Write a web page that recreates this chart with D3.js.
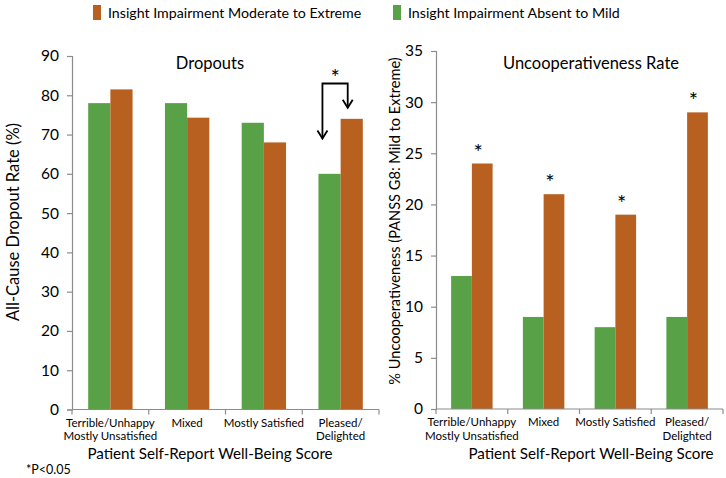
<!DOCTYPE html>
<html><head><meta charset="utf-8">
<script src="https://cdn.jsdelivr.net/npm/d3@7"></script>
<style>
body{margin:0;background:#fff;}
text{font-family:Lato,"Open Sans",sans-serif;fill:#000;}
</style></head>
<body><svg id="c" width="726" height="478"></svg>
<script>
const categories = [["Terrible/Unhappy","Mostly Unsatisfied"],["Mixed"],["Mostly Satisfied"],["Pleased/","Delighted"]];
const seriesNames = ["Insight Impairment Absent to Mild","Insight Impairment Moderate to Extreme"];
const dropoutAbsent = [78, 78, 73, 60];
const dropoutModerate = [81.5, 74.3, 68, 74];
const uncoopAbsent = [13, 9, 8, 9];
const uncoopModerate = [24, 21, 19, 29];
const uncoopSignificant = [true, true, true, true];
const dropoutTicks = [0,10,20,30,40,50,60,70,80,90];
const uncoopTicks = [0,5,10,15,20,25,30,35];
const colors = {"Insight Impairment Absent to Mild":"#58A146","Insight Impairment Moderate to Extreme":"#B8601F"};

const svg = d3.select("#c");

// Legend
const legendItems = [
  {name: seriesNames[1], x: 93},
  {name: seriesNames[0], x: 393}
];
legendItems.forEach(it=>{
  svg.append("rect").attr("x", it.x).attr("y", 5).attr("width", 8).attr("height", 15).attr("fill", colors[it.name]);
  svg.append("text").attr("x", it.x+15).attr("y", 18).attr("font-size", 14.2).text(it.name);
});

function panel(opt){
  const g = svg.append("g");
  const x = d3.scaleBand().domain(d3.range(categories.length)).range([opt.x0, opt.x1]).padding(0);
  const y = d3.scaleLinear().domain([0, opt.max]).range([opt.yb, opt.yt]);
  const sub = d3.scaleBand().domain(seriesNames).range([0, x.bandwidth()]).paddingInner(0).paddingOuter(0.73);
  const data = categories.map((c,i)=>({i, vals:[{s:seriesNames[0], v:opt.a[i]},{s:seriesNames[1], v:opt.b[i]}]}));
  const grp = g.selectAll("g.cat").data(data).join("g").attr("transform", d=>`translate(${x(d.i)},0)`);
  grp.selectAll("rect").data(d=>d.vals).join("rect")
    .attr("x", d=>sub(d.s)).attr("width", sub.bandwidth())
    .attr("y", d=>y(d.v)).attr("height", d=>y(0)-y(d.v))
    .attr("fill", d=>colors[d.s]);

  // y axis
  const ya = g.append("g").attr("transform", `translate(${opt.x0},0)`)
    .call(d3.axisLeft(y).tickValues(opt.ticks).tickSize(5).tickPadding(8).tickFormat(d3.format("d")));
  ya.select(".domain").attr("stroke","#8c8c8c").attr("stroke-width",1.2);
  ya.selectAll(".tick line").attr("stroke","#8c8c8c").attr("stroke-width",1.2);
  ya.selectAll(".tick text").attr("font-size", 15.5).attr("font-family","Lato, sans-serif").attr("fill","#000");

  // x axis line and boundary ticks
  g.append("line").attr("x1", opt.x0).attr("x2", opt.x1).attr("y1", y(0)).attr("y2", y(0)).attr("stroke","#8c8c8c").attr("stroke-width",1.2);
  const bounds = d3.range(categories.length+1).map(i=> i<categories.length ? x(i) : opt.x1);
  g.selectAll("line.bt").data(bounds).join("line").attr("class","bt")
    .attr("x1", d=>d).attr("x2", d=>d).attr("y1", y(0)).attr("y2", y(0)+5).attr("stroke","#8c8c8c").attr("stroke-width",1.2);

  // category labels
  categories.forEach((lines,i)=>{
    const t = g.append("text").attr("text-anchor","middle").attr("font-size", 11.5)
      .attr("x", x(i)+x.bandwidth()/2).attr("y", y(0)+17);
    lines.forEach((ln,k)=>t.append("tspan").attr("x", x(i)+x.bandwidth()/2).attr("dy", k===0?0:13.5).text(ln));
  });

  // titles
  g.append("text").attr("x", opt.titleX).attr("y", 69).attr("text-anchor","middle").attr("font-size", 16.5).text(opt.title);
  g.append("text").attr("x", opt.titleX).attr("y", 459).attr("text-anchor","middle").attr("font-size", 15.2).text("Patient Self-Report Well-Being Score");
  g.append("text").attr("transform", `translate(${opt.ylx},${opt.yly}) rotate(-90)`).attr("text-anchor","middle")
    .attr("font-size", opt.ylfs).text(opt.ylabel);
  return {x, y, sub, g};
}

const L = panel({x0:72, x1:379, yb:409.5, yt:56, max:90, ticks:dropoutTicks, a:dropoutAbsent, b:dropoutModerate,
  title:"Dropouts", titleX:210, ylabel:"All-Cause Dropout Rate (%)", ylx:19, yly:222, ylfs:16.5});
const R = panel({x0:436, x1:723, yb:409, yt:51, max:35, ticks:uncoopTicks, a:uncoopAbsent, b:uncoopModerate,
  title:"Uncooperativeness Rate", titleX:591, ylabel:"% Uncooperativeness (PANSS G8: Mild to Extreme)", ylx:400, yly:221, ylfs:14.6});

// Stars on right panel
uncoopModerate.forEach((v,i)=>{
  if(!uncoopSignificant[i]) return;
  const cx = R.x(i) + R.sub(seriesNames[1]) + R.sub.bandwidth()/2 - 4;
  svg.append("text").attr("x", cx).attr("y", R.y(v)-4).attr("text-anchor","middle").attr("font-size",22).text("*");
});

// Bracket arrow on left panel (last category)
const li = 3;
const bracketTop = 83, leftTip = 69, rightTip = 76.8;
const lx = L.x(li) + L.sub(seriesNames[0]) + 4;
const rx = L.x(li) + L.sub(seriesNames[1]) + L.sub.bandwidth()/2 - 4;
const path = d3.path();
path.moveTo(lx, L.y(leftTip)); path.lineTo(lx, L.y(bracketTop)); path.lineTo(rx, L.y(bracketTop)); path.lineTo(rx, L.y(rightTip));
svg.append("path").attr("d", path.toString()).attr("fill","none").attr("stroke","#000").attr("stroke-width",1.8);
[[lx, L.y(leftTip)],[rx, L.y(rightTip)]].forEach(([ax,ay])=>{
  svg.append("path").attr("d", `M${ax-5},${ay-8}L${ax},${ay}L${ax+5},${ay-8}`).attr("fill","none").attr("stroke","#000").attr("stroke-width",1.8);
});
svg.append("text").attr("x", (lx+rx)/2).attr("y", L.y(bracketTop)+2).attr("text-anchor","middle").attr("font-size",22).text("*");

// footnote
svg.append("text").attr("x", 26).attr("y", 474).attr("font-size", 12.5).text("*P<0.05");
</script></body></html>
